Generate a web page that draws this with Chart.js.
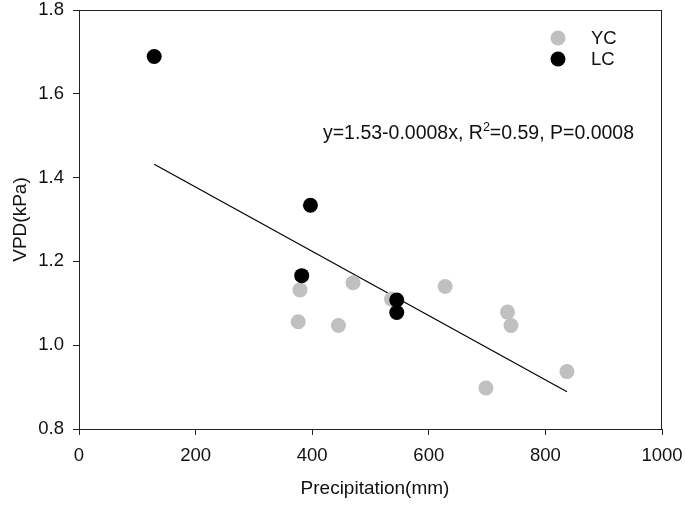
<!DOCTYPE html>
<html>
<head>
<meta charset="utf-8">
<script src="https://cdn.jsdelivr.net/npm/chart.js@4.4.1/dist/chart.umd.min.js"></script>
<style>
  html, body { margin: 0; padding: 0; background: #fff; }
  #wrap { width: 685px; height: 506px; }
</style>
</head>
<body>
<div id="wrap"><canvas id="scatterChart"></canvas></div>
<script>
// values
const ycPrecip = [379, 376, 445, 470, 536, 628, 735, 741, 698, 837];
const ycVpd    = [1.132, 1.056, 1.047, 1.149, 1.110, 1.140, 1.079, 1.047, 0.898, 0.937];
const lcPrecip = [129, 397, 382, 545, 545];
const lcVpd    = [1.689, 1.334, 1.166, 1.108, 1.078];
// fitted line end points
const fitPrecip = [129, 837];
const fitVpd    = [1.432, 0.889];

const xTicks = [0, 200, 400, 600, 800, 1000];
const yTicks = [0.8, 1.0, 1.2, 1.4, 1.6, 1.8];
const seriesNames = ["YC", "LC"];
const xTitle = "Precipitation(mm)";
const fitLabel = "y=1.53-0.0008x, R|2|=0.59, P=0.0008";

const FONT = "'Liberation Sans', Arial, sans-serif";
const toPoints = (xs, ys) => xs.map((x, i) => ({ x: x, y: ys[i] }));

// box round the plot, legend, x title and equation text
const extrasPlugin = {
    id: "extras",
    afterDraw(chart) {
        const ctx = chart.ctx;
        const a = chart.chartArea;
        const xs = chart.scales.x;
        const ys = chart.scales.y;
        ctx.save();
        ctx.strokeStyle = "#222";
        ctx.lineWidth = 1;
        ctx.strokeRect(a.left + 0.5, a.top + 0.5, a.right - a.left - 1, a.bottom - a.top);

        // legend
        ctx.font = "18.5px " + FONT;
        ctx.textBaseline = "middle";
        [chart.data.datasets[1], chart.data.datasets[0]].forEach((ds, i) => {
            const cy = 38 + i * 21;
            ctx.beginPath();
            ctx.fillStyle = ds.backgroundColor;
            ctx.arc(558, cy, 7.5, 0, Math.PI * 2);
            ctx.fill();
            ctx.fillStyle = "#111";
            ctx.fillText(seriesNames[i], 591, cy + 1);
        });

        // x axis title (sits a little right of centre in the original)
        ctx.font = "19px " + FONT;
        ctx.textAlign = "center";
        ctx.textBaseline = "alphabetic";
        ctx.fillText(xTitle, 375, 494);
        ctx.textAlign = "left";

        // equation with superscript
        const parts = fitLabel.split("|");
        let tx = xs.getPixelForValue(418.5);
        const ty = ys.getPixelForValue(1.492);
        parts.forEach((p, i) => {
            if (i === 1) {
                ctx.font = "12.5px " + FONT;
                ctx.fillText(p, tx, ty - 8);
            } else {
                ctx.font = "19.5px " + FONT;
                ctx.fillText(p, tx, ty);
            }
            tx += ctx.measureText(p).width;
        });
        ctx.restore();
    }
};

const ctx = document.getElementById("scatterChart").getContext("2d");
new Chart(ctx, {
    type: "scatter",
    data: {
        datasets: [
            {
                label: "LC",
                data: toPoints(lcPrecip, lcVpd),
                backgroundColor: "#000000",
                borderWidth: 0,
                pointRadius: 7.5,
                pointHoverRadius: 7.5,
                order: 0
            },
            {
                label: "YC",
                data: toPoints(ycPrecip, ycVpd),
                backgroundColor: "#c0c0c0",
                borderWidth: 0,
                pointRadius: 7.5,
                pointHoverRadius: 7.5,
                order: 1
            },
            {
                type: "line",
                label: "fit",
                data: toPoints(fitPrecip, fitVpd),
                borderColor: "#000000",
                borderWidth: 1.2,
                pointRadius: 0,
                fill: false,
                order: 2
            }
        ]
    },
    options: {
        responsive: true,
        maintainAspectRatio: false,
        animation: false,
        events: [],
        layout: { padding: { left: 0, right: 23, top: 10, bottom: 0 } },
        plugins: {
            legend: { display: false },
            tooltip: { enabled: false }
        },
        scales: {
            x: {
                type: "linear",
                min: 0,
                max: 1000,
                afterBuildTicks: s => { s.ticks = xTicks.map(v => ({ value: v })); },
                afterFit: s => {
                    s.height = 77;
                    s.paddingLeft = 0;
                    s.paddingRight = 0;
                },
                grid: { drawOnChartArea: false, drawTicks: true, tickLength: 6, color: "#222" },
                border: { display: true, color: "#222" },
                ticks: {
                    font: { family: FONT, size: 18.5 },
                    color: "#111",
                    padding: 10,
                    maxRotation: 0,
                    callback: v => String(v)
                },
                title: { display: false }
            },
            y: {
                type: "linear",
                min: 0.8,
                max: 1.8,
                afterBuildTicks: s => { s.ticks = yTicks.map(v => ({ value: v })); },
                afterFit: s => {
                    s.width = 79;
                    s.paddingTop = 0;
                    s.paddingBottom = 0;
                },
                grid: { drawOnChartArea: false, drawTicks: true, tickLength: 6, color: "#222" },
                border: { display: true, color: "#222" },
                ticks: {
                    font: { family: FONT, size: 18.5 },
                    color: "#111",
                    padding: 9,
                    callback: v => v.toFixed(1)
                },
                title: {
                    display: true,
                    text: "VPD(kPa)",
                    font: { family: FONT, size: 19 },
                    color: "#111",
                    padding: { top: 9, bottom: 0 }
                }
            }
        }
    },
    plugins: [extrasPlugin]
});
</script>
</body>
</html>
